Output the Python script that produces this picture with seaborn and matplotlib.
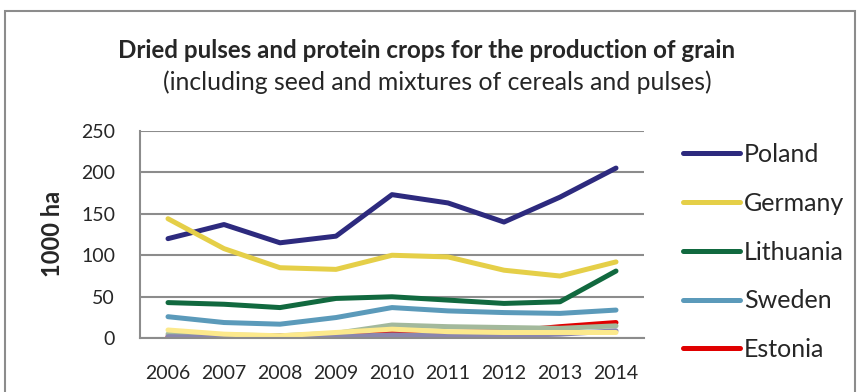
import pandas as pd
import matplotlib.pyplot as plt
import seaborn as sns
from matplotlib.patches import Rectangle

years = [2006, 2007, 2008, 2009, 2010, 2011, 2012, 2013, 2014]

poland = [120, 137, 115, 123, 173, 163, 140, 170, 205]
germany = [144, 108, 85, 83, 100, 98, 82, 75, 92]
lithuania = [43, 41, 37, 48, 50, 46, 42, 44, 81]
sweden = [26, 19, 17, 25, 37, 33, 31, 30, 34]
estonia = [2, 3, 3, 4, 6, 7, 8, 14, 19]
# series whose legend entries are cut off in the source picture
other_a = [5, 4, 3, 6, 16, 14, 13, 12, 15]
other_b = [2, 1, 1, 2, 4, 3, 3, 5, 9]
other_c = [10, 5, 3, 7, 11, 8, 7, 7, 7]

series = {
    "Poland": poland,
    "Germany": germany,
    "Lithuania": lithuania,
    "Sweden": sweden,
    "Estonia": estonia,
    "Other A": other_a,
    "Other B": other_b,
    "Other C": other_c,
}
colors = ["#2d2a7e", "#e5cf48", "#11693f", "#5b9aba", "#e00000",
          "#a3b99c", "#8a86ae", "#fce98c"]

df = pd.DataFrame([
    {"Year": y, "Country": name, "Area": v}
    for name, vals in series.items() for y, v in zip(years, vals)
])

sns.set_style("white")
plt.rcParams["font.family"] = ["Lato", "DejaVu Sans"]

fig = plt.figure(figsize=(8.59, 3.92), dpi=100)
ax = fig.add_axes([140 / 859, 1 - 338.3 / 392, 504 / 859, (338.3 - 130.7) / 392])

sns.lineplot(data=df, x="Year", y="Area", hue="Country", palette=colors,
             linewidth=3.6, ax=ax, legend=True, solid_capstyle="round")

ax.set_xlim(2005.5, 2014.5)
ax.set_ylim(0, 250)
ax.set_xticks(years)
ax.set_yticks(range(0, 251, 50))
ax.tick_params(axis="both", length=0, labelsize=14)
ax.tick_params(axis="y", pad=18)
ax.tick_params(axis="x", pad=19)
ax.yaxis.grid(True, color="#8c8c8c", linewidth=1.5)
ax.set_axisbelow(True)
for s in ["top", "right"]:
    ax.spines[s].set_visible(False)
ax.spines["left"].set_color("#8c8c8c")
ax.spines["bottom"].set_color("#8c8c8c")
ax.spines["left"].set_linewidth(1.5)
ax.spines["bottom"].set_linewidth(1.5)
ax.set_xlabel("")
ax.set_ylabel("")
fig.text(53 / 859, 1 - 234 / 392, "1000 ha", rotation=90, ha="center",
         va="center", fontsize=17, fontweight="bold")

handles, labels = ax.get_legend_handles_labels()
leg = ax.legend(handles[:5], labels[:5], loc="upper left",
                bbox_to_anchor=(683 / 859, 1 - 143 / 392),
                bbox_transform=fig.transFigure, frameon=False, fontsize=18,
                handlelength=2.28, handletextpad=0.15, labelspacing=1.03,
                borderpad=0, borderaxespad=0)
for line in leg.get_lines():
    line.set_linewidth(3.6)
    line.set_solid_capstyle("round")

fig.text(427 / 859, 1 - 50 / 392,
         "Dried pulses and protein crops for the production of grain",
         ha="center", va="center", fontsize=17.4, fontweight="bold")
fig.text(437 / 859, 1 - 82 / 392,
         "(including seed and mixtures of cereals and pulses)",
         ha="center", va="center", fontsize=17.8)

fig.patches.append(Rectangle((5 / 859, -0.1), 850 / 859, 1.1 - 11 / 392,
                             transform=fig.transFigure, fill=False,
                             edgecolor="#8c8c8c", linewidth=1.5))

fig.savefig("out.png", dpi=100)
